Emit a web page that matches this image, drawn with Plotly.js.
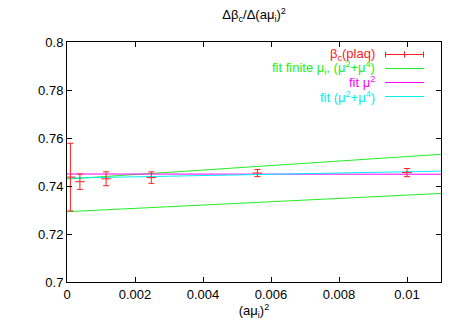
<!DOCTYPE html>
<html><head><meta charset="utf-8">
<script src="https://cdn.plot.ly/plotly-3.0.1.min.js"></script>
<style>html,body{margin:0;padding:0;background:#fff}#c{width:465px;height:325px}</style>
</head><body><div id="c"></div>
<script>
// data points beta_c(plaq)
const muSq = [0.0001, 0.00038, 0.00115, 0.00248, 0.0056, 0.0100];
const betaC = [0.7437, 0.7418, 0.7430, 0.7435, 0.7454, 0.7456];
const betaErr = [0.0141, 0.0032, 0.0029, 0.0024, 0.0015, 0.0017];
// fit curves (endpoints)
const fitX = [0, 0.011];
const fitFiniteUpper = [0.7429, 0.7532];
const fitFiniteLower = [0.7293, 0.7369];
const fitMu2 = [0.7450, 0.7449];
const fitMu24 = [0.7433, 0.7462];
const legendLabels = [
  "β<sub>c</sub>(plaq)",
  "fit finite μ<sub>i</sub>, (μ<sup>2</sup>+μ<sup>4</sup>)",
  "fit μ<sup>2</sup>",
  "fit (μ<sup>2</sup>+μ<sup>4</sup>)"
];
const colors = ["#ff2020", "#22ee22", "#ff00ff", "#00f0f0"];

const traces = [
  {x: fitX, y: fitFiniteUpper, mode: 'lines', line: {color: colors[1], width: 1}},
  {x: fitX, y: fitFiniteLower, mode: 'lines', line: {color: colors[1], width: 1}},
  {x: fitX, y: fitMu2, mode: 'lines', line: {color: colors[2], width: 1}},
  {x: fitX, y: fitMu24, mode: 'lines', line: {color: colors[3], width: 1}},
  {x: muSq, y: betaC, mode: 'markers',
   marker: {symbol: 'line-ew', size: 7, line: {color: colors[0], width: 1}},
   error_y: {type: 'data', array: betaErr, visible: true, color: colors[0], thickness: 1, width: 3}}
];

const fam = 'Liberation Sans, Arial, sans-serif';
const annotations = [];
const shapes = [];
const rowsY = [54.5, 68.5, 82.5, 96.5];
const W = 465, H = 325;
const px2x = p => (p - 67) / 374;
const py2y = p => 1 - (p - 42) / 240;
legendLabels.forEach((t, i) => {
  const y = py2y(rowsY[i]);
  annotations.push({xref: 'paper', yref: 'paper', x: px2x(377), y: y,
    xanchor: 'right', yanchor: 'middle', text: t, showarrow: false,
    font: {family: fam, size: 13, color: colors[i]}});
  shapes.push({type: 'line', xref: 'paper', yref: 'paper', x0: px2x(385), x1: px2x(424), y0: y, y1: y,
    line: {color: colors[i], width: 1}});
  if (i === 0) {
    [385.5, 404.5, 423.5].forEach(p => {
      shapes.push({type: 'line', xref: 'paper', yref: 'paper', x0: px2x(p), x1: px2x(p),
        y0: y - 3 / 240, y1: y + 3 / 240, line: {color: colors[0], width: 1}});
    });
  }
});

const axisCommon = {
  ticks: 'inside', ticklen: 5, tickcolor: '#000', mirror: 'ticks', showline: true, linecolor: '#000', linewidth: 1,
  showgrid: false, zeroline: false, tickfont: {family: fam, size: 13, color: '#000'}
};
const layout = {
  width: W, height: H,
  margin: {l: 67, r: 24, t: 42, b: 43},
  paper_bgcolor: '#fff', plot_bgcolor: '#fff',
  font: {family: fam, size: 13, color: '#000'},
  showlegend: false,
  title: {text: "Δβ<sub>c</sub>/Δ(aμ<sub>i</sub>)<sup>2</sup>", x: 0.5465, xanchor: 'center', y: 0.955, yanchor: 'middle',
    font: {family: fam, size: 13, color: '#000'}},
  xaxis: Object.assign({range: [0, 0.011], tickvals: [0, 0.002, 0.004, 0.006, 0.008, 0.01],
    ticktext: ["0", "0.002", "0.004", "0.006", "0.008", "0.01"],
    title: {text: "(aμ<sub>i</sub>)<sup>2</sup>", standoff: 3, font: {family: fam, size: 13, color: '#000'}}}, axisCommon),
  yaxis: Object.assign({range: [0.7, 0.8], tickvals: [0.7, 0.72, 0.74, 0.76, 0.78, 0.8],
    ticktext: ["0.7", "0.72", "0.74", "0.76", "0.78", "0.8"]}, axisCommon),
  annotations: annotations,
  shapes: shapes
};
Plotly.newPlot('c', traces, layout, {staticPlot: true});
</script>
</body></html>
